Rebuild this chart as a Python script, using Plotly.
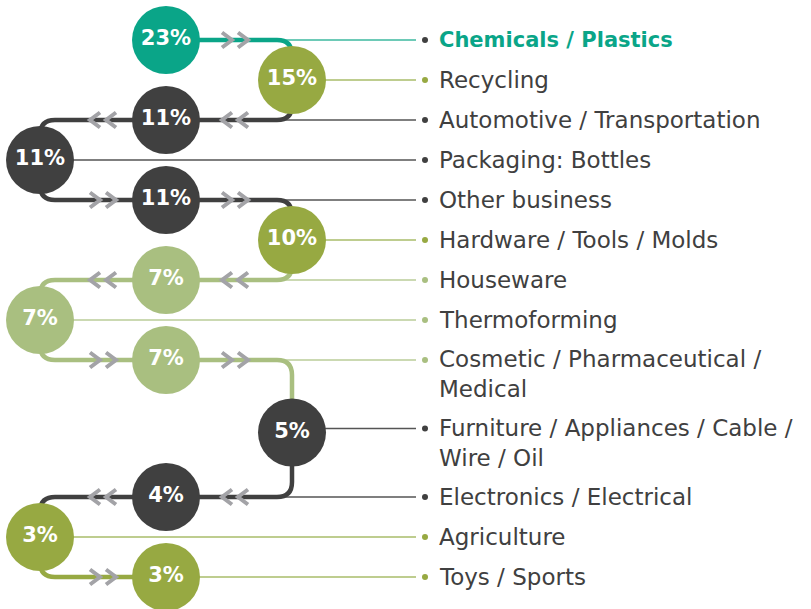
import textwrap
import plotly.graph_objects as go

# ---------------- data ----------------
categories = [
    "Chemicals / Plastics", "Recycling", "Automotive / Transportation",
    "Packaging: Bottles", "Other business", "Hardware / Tools / Molds",
    "Houseware", "Thermoforming", "Cosmetic / Pharmaceutical / Medical",
    "Furniture / Appliances / Cable / Wire / Oil", "Electronics / Electrical",
    "Agriculture", "Toys / Sports",
]
shares = [23, 15, 11, 11, 11, 10, 7, 7, 7, 5, 4, 3, 3]
groups = ["teal", "green", "dark", "dark", "dark", "green", "light",
          "light", "light", "dark", "dark", "green", "green"]
bullet_groups = ["dark", "green", "dark", "dark", "dark", "green", "light",
                 "light", "light", "dark", "dark", "green", "green"]

# ---------------- style ----------------
W, H = 811, 609
PAL = {"teal": "#0AA588", "green": "#97A942", "light": "#A9BF80", "dark": "#404040"}
THIN = {"teal": "#3DB89F", "green": "#A9BC6A", "light": "#BACC98", "dark": "#555555"}
CHEV = "#A3A3A7"
TEXT = "#404040"
FONT = "DejaVu Sans"
COL_X = [40, 166, 292]
R = 34          # circle radius
CR = 15         # corner radius
LINE_END = 416
BULLET_X = 425
TEXT_X = 437
ROW_STEP = 40
EXTRA_LINE = 28.5

n = len(categories)
col = [[1, 2, 1, 0][i % 4] for i in range(n)]
wrapped = [textwrap.wrap(c, 32) for c in categories]

ys = []
y = 40
for i in range(n):
    ys.append(y)
    y += ROW_STEP + EXTRA_LINE * (len(wrapped[i]) - 1)
xs = [COL_X[c] for c in col]
# circles of two-line rows sit slightly lower
cys = [ys[i] + (4 if (len(wrapped[i]) > 1 and col[i] == 2) else 0) for i in range(n)]

shapes = []

# thin connector lines to labels
for i in range(n):
    shapes.append(dict(type="line", xref="x", yref="y", x0=xs[i], x1=LINE_END,
                       y0=ys[i], y1=ys[i], layer="below",
                       line=dict(color=THIN[groups[i]], width=1.6)))


def rounded_path(pts, r):
    p = f"M {pts[0][0]},{pts[0][1]}"
    for k in range(1, len(pts) - 1):
        (x0, y0), (x1, y1), (x2, y2) = pts[k - 1], pts[k], pts[k + 1]
        def unit(ax, ay, bx, by):
            d = ((bx - ax) ** 2 + (by - ay) ** 2) ** 0.5 or 1
            return (bx - ax) / d, (by - ay) / d
        ux, uy = unit(x1, y1, x0, y0)
        vx, vy = unit(x1, y1, x2, y2)
        p += f" L {x1 + ux * r},{y1 + uy * r} Q {x1},{y1} {x1 + vx * r},{y1 + vy * r}"
    p += f" L {pts[-1][0]},{pts[-1][1]}"
    return p


def chevron(cx, cy, direction):
    hw, hh = 5, 7.5
    return (f"M {cx - direction * hw},{cy - hh} L {cx + direction * hw},{cy} "
            f"L {cx - direction * hw},{cy + hh}")


# thick flow paths through middle-column rows
for i in range(n):
    if col[i] != 1:
        continue
    pts = []
    if i > 0:
        pts += [(xs[i - 1], cys[i - 1]), (xs[i - 1], ys[i])]
    else:
        pts += [(xs[i], ys[i])]
    if i < n - 1:
        pts += [(xs[i + 1], ys[i]), (xs[i + 1], cys[i + 1])]
    else:
        pts += [(xs[i], ys[i])]
    shapes.append(dict(type="path", xref="x", yref="y", layer="below",
                       path=rounded_path(pts, CR),
                       line=dict(color=PAL[groups[i]], width=4.5)))
    start_x = pts[0][0]
    end_x = pts[-1][0]
    direction = 1 if end_x > start_x else -1
    lo, hi = min(start_x, end_x), max(start_x, end_x)
    for seg_c in (103, 235):
        if lo < seg_c < hi:
            for off in (-8, 8):
                shapes.append(dict(type="path", xref="x", yref="y", layer="below",
                                   path=chevron(seg_c + off, ys[i], direction),
                                   line=dict(color=CHEV, width=4)))

fig = go.Figure()

# circles
fig.add_trace(go.Scatter(
    x=xs, y=cys, mode="markers+text",
    marker=dict(size=2 * R, color=[PAL[g] for g in groups], line=dict(width=0)),
    text=[f"<b>{v}%</b>" for v in shares], textposition="middle center",
    textfont=dict(family=FONT, size=21, color="white"),
    hoverinfo="skip", showlegend=False, cliponaxis=False))

# bullets
fig.add_trace(go.Scatter(
    x=[BULLET_X] * n, y=ys, mode="markers",
    marker=dict(size=6, color=[PAL[g] for g in bullet_groups]),
    hoverinfo="skip", showlegend=False))

annotations = []
for i in range(n):
    txt = "<br>".join(wrapped[i])
    color = TEXT
    size = 23
    if i == 0:
        txt = f"<b>{txt}</b>"
        color = PAL["teal"]
        size = 21
    nl = len(wrapped[i])
    annotations.append(dict(x=TEXT_X, y=ys[i] + (nl - 1) * EXTRA_LINE / 2,
                            xref="x", yref="y", xanchor="left", yanchor="middle",
                            text=txt, showarrow=False, align="left",
                            font=dict(family=FONT, size=size, color=color)))

fig.update_layout(
    width=W, height=H, autosize=False,
    margin=dict(l=0, r=0, t=0, b=0),
    paper_bgcolor="white", plot_bgcolor="white",
    xaxis=dict(range=[0, W], visible=False, fixedrange=True),
    yaxis=dict(range=[H, 0], visible=False, fixedrange=True),
    shapes=shapes, annotations=annotations, showlegend=False,
)

fig.write_html("out.html")
